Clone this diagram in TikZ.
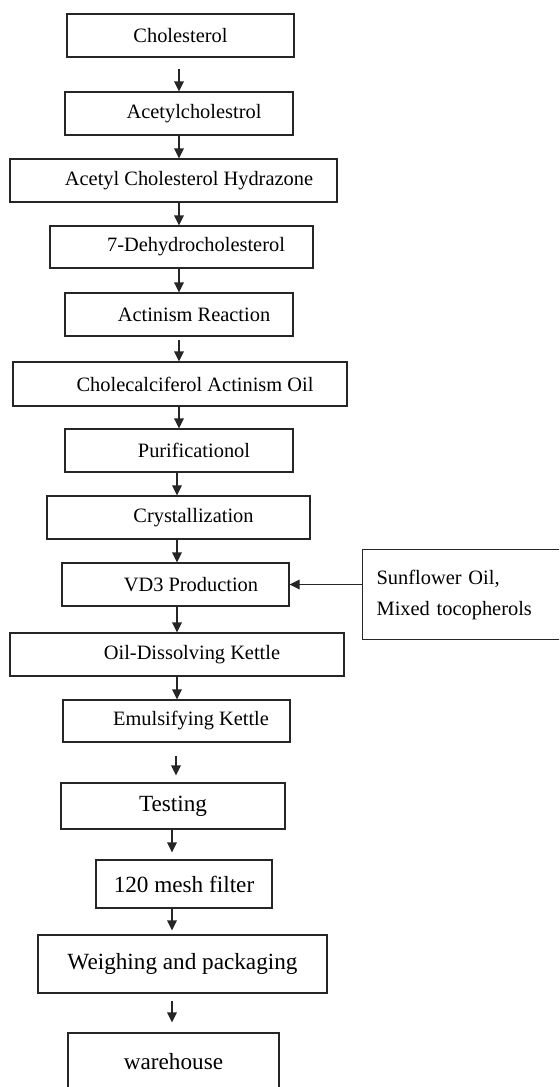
\documentclass[tikz,border=0pt]{standalone}
\usepackage{fontspec}
\setmainfont{Liberation Serif}
\usetikzlibrary{arrows.meta}
\tikzset{
  box/.style={draw=black!85, line width=0.65pt, inner sep=0pt, font=\fontsize{10.2pt}{12pt}\selectfont, text=black},
  bigbox/.style={box, font=\fontsize{11.6pt}{14pt}\selectfont},
  arr/.style={draw=black!85, line width=0.65pt, -{Triangle[length=5pt,width=4.8pt]}},
}
\begin{document}
\begin{tikzpicture}[x=0.5pt,y=-0.5pt]
\useasboundingbox (0,0) rectangle (559,1087);
\clip (0,0) rectangle (559,1087);
\fill[white] (0,0) rectangle (559,1087);
% columns for the connectors
\coordinate (xa) at (179,0);
\coordinate (xb) at (177,0);
\coordinate (xc) at (176,0);
\coordinate (xd) at (172,0);
% boxes
\node[box, minimum width=113.5pt, minimum height=21.5pt] (b1) at (180.5,35.5) {Cholesterol};
\node[box, minimum width=114pt, minimum height=21.5pt] (b2) at (179,113.5) {\hspace*{15pt}Acetylcholestrol};
\node[box, minimum width=163.5pt, minimum height=21.5pt] (b3) at (173.5,180.5) {\hspace*{15.5pt}Acetyl Cholesterol Hydrazone};
\node[box, minimum width=131.5pt, minimum height=21pt] (b4) at (181.5,247) {\hspace*{14.5pt}7-Dehydrocholesterol};
\node[box, minimum width=114pt, minimum height=21.5pt] (b5) at (179,314.5) {\hspace*{15pt}Actinism Reaction};
\node[box, minimum width=167pt, minimum height=22pt] (b6) at (180,384) {\hspace*{15pt}Cholecalciferol Actinism Oil};
\node[box, minimum width=114pt, minimum height=21.5pt] (b7) at (179,450.5) {\hspace*{15pt}Purificationol};
\node[box, minimum width=131.5pt, minimum height=21.5pt] (b8) at (178.5,517.5) {\hspace*{15pt}Crystallization};
\node[box, minimum width=113.5pt, minimum height=21.5pt] (b9) at (175.5,584.5) {\hspace*{15.5pt}VD3 Production};
\node[box, minimum width=167pt, minimum height=21.5pt] (b10) at (177,654.5) {\hspace*{15pt}Oil-Dissolving Kettle};
\node[box, minimum width=113.5pt, minimum height=21pt] (b11) at (176.5,721) {\hspace*{14.5pt}Emulsifying Kettle};
\node[bigbox, minimum width=112pt, minimum height=23pt] (b12) at (173,806) {Testing};
\node[bigbox, minimum width=88pt, minimum height=24pt] (b13) at (184,884) {120 mesh filter};
\node[bigbox, minimum width=144.5pt, minimum height=29pt] (b14) at (182.5,964) {Weighing and packaging};
\node[bigbox, minimum width=105.5pt, minimum height=35pt] (b15) at (173.5,1068) {\raisebox{7pt}{warehouse}};
\node[box, anchor=north west, minimum width=109pt, minimum height=45pt, text width=95pt, inner xsep=7pt, align=left,
      font=\fontsize{10.2pt}{15.5pt}\selectfont] (s) at (362,549) {Sunflower Oil,\\Mixed tocopherols};
% connectors
\draw[arr, shorten <=5.5pt] (b1.south -| xa) -- (b2.north -| xa);
\draw[arr] (b2.south -| xa) -- (b3.north -| xa);
\draw[arr] (b3.south -| xa) -- (b4.north -| xa);
\draw[arr] (b4.south -| xa) -- (b5.north -| xa);
\draw[arr, shorten <=1.5pt] (b5.south -| xa) -- (b6.north -| xa);
\draw[arr] (b6.south -| xa) -- (b7.north -| xa);
\draw[arr] (b7.south -| xb) -- (b8.north -| xb);
\draw[arr] (b8.south -| xb) -- (b9.north -| xb);
\draw[arr] (b9.south -| xb) -- (b10.north -| xb);
\draw[arr] (b10.south -| xb) -- (b11.north -| xb);
\draw[arr, shorten <=6.5pt, shorten >=3.5pt] (b11.south -| xc) -- (b12.north -| xc);
\draw[arr, shorten >=3.5pt] (b12.south -| xd) -- (b13.north -| xd);
\draw[arr, shorten >=2pt] (b13.south -| xd) -- (b14.north -| xd);
\draw[arr, shorten <=3.5pt, shorten >=5pt] (b14.south -| xd) -- (b15.north -| xd);
\draw[arr] (s.west |- b9.east) -- (b9.east);
\end{tikzpicture}
\end{document}
